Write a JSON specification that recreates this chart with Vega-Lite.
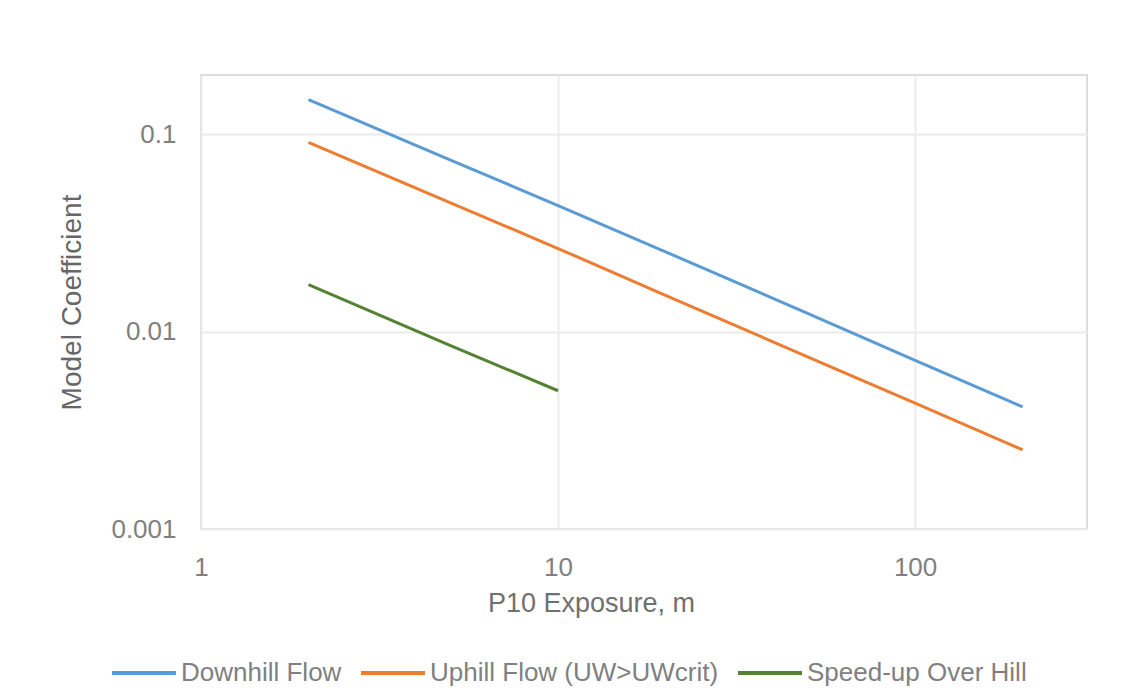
{
  "$schema": "https://vega.github.io/schema/vega-lite/v6.json",
  "width": 886,
  "height": 454,
  "autosize": {"type": "none"},
  "padding": {"left": 201, "top": 75, "right": 44, "bottom": 162},
  "background": "white",
  "config": {
    "font": "Liberation Sans",
    "view": {"stroke": "#dcdcdc", "strokeWidth": 2},
    "axis": {"gridColor": "#ebebeb", "gridWidth": 2, "domain": false, "ticks": false, "tickSize": 0, "labelFlush": false, "labelOverlap": false}
  },
  "data": {
    "values": [
      {"series": "Downhill Flow", "x": 2, "y": 0.15},
      {"series": "Downhill Flow", "x": 5, "y": 0.0741},
      {"series": "Downhill Flow", "x": 10, "y": 0.0436},
      {"series": "Downhill Flow", "x": 20, "y": 0.0254},
      {"series": "Downhill Flow", "x": 50, "y": 0.0124},
      {"series": "Downhill Flow", "x": 100, "y": 0.00716},
      {"series": "Downhill Flow", "x": 200, "y": 0.00416},
      {"series": "Uphill Flow (UW>UWcrit)", "x": 2, "y": 0.091},
      {"series": "Uphill Flow (UW>UWcrit)", "x": 5, "y": 0.045},
      {"series": "Uphill Flow (UW>UWcrit)", "x": 10, "y": 0.0264},
      {"series": "Uphill Flow (UW>UWcrit)", "x": 20, "y": 0.0153},
      {"series": "Uphill Flow (UW>UWcrit)", "x": 50, "y": 0.00746},
      {"series": "Uphill Flow (UW>UWcrit)", "x": 100, "y": 0.00434},
      {"series": "Uphill Flow (UW>UWcrit)", "x": 200, "y": 0.00252},
      {"series": "Speed-up Over Hill", "x": 2, "y": 0.01733},
      {"series": "Speed-up Over Hill", "x": 5, "y": 0.0085},
      {"series": "Speed-up Over Hill", "x": 10, "y": 0.00502}
    ]
  },
  "mark": {"type": "line", "strokeWidth": 3, "clip": true},
  "encoding": {
    "x": {
      "field": "x", "type": "quantitative",
      "scale": {"type": "log", "domain": [1, 303], "nice": false},
      "axis": {
        "values": [1, 10, 100], "format": "~g",
        "title": "P10 Exposure, m",
        "labelFontSize": 26, "labelColor": "#808080", "labelBaseline": "alphabetic", "labelPadding": 46,
        "titleFontSize": 27, "titleFontWeight": "normal", "titleColor": "#707070",
        "titleBaseline": "alphabetic", "titleX": 390, "titleY": 82, "titleAnchor": "middle", "titleAlign": "center"
      }
    },
    "y": {
      "field": "y", "type": "quantitative",
      "scale": {"type": "log", "domain": [0.001, 0.2], "nice": false},
      "axis": {
        "values": [0.001, 0.01, 0.1], "format": "~g",
        "title": "Model Coefficient",
        "labelFontSize": 26, "labelColor": "#808080", "labelPadding": 25,
        "titleFontSize": 28, "titleFontWeight": "normal", "titleColor": "#666666",
        "titleBaseline": "alphabetic", "titleAngle": -90, "titleX": -121, "titleY": 227, "titleAlign": "center"
      }
    },
    "color": {
      "field": "series", "type": "nominal",
      "scale": {
        "domain": ["Downhill Flow", "Uphill Flow (UW>UWcrit)", "Speed-up Over Hill"],
        "range": ["#5B9BD5", "#ED7D31", "#548235"]
      },
      "legend": {
        "title": null, "orient": "none", "direction": "horizontal",
        "legendX": -91, "legendY": 564,
        "symbolType": "stroke", "symbolSize": 4096, "symbolStrokeWidth": 4,
        "labelFontSize": 26, "labelColor": "#808080", "labelOffset": 3, "labelLimit": 500,
        "columnPadding": 11, "padding": 0
      }
    }
  }
}
